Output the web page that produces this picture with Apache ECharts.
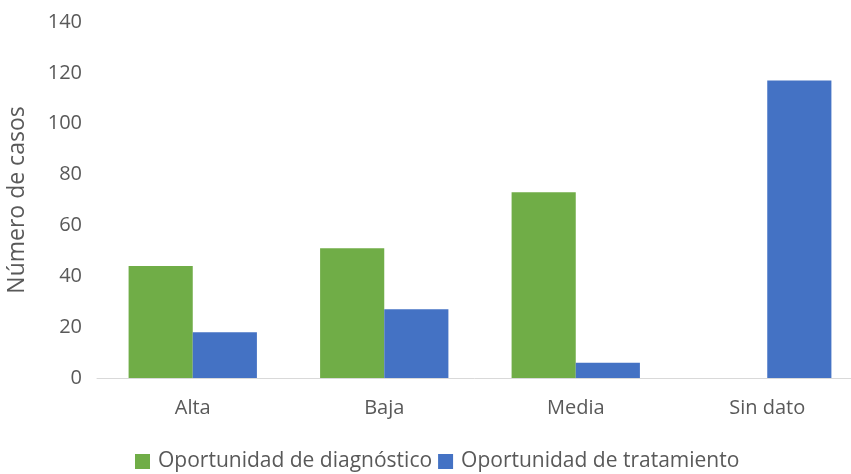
<!DOCTYPE html>
<html>
<head>
<meta charset="utf-8">
<script src="https://cdn.jsdelivr.net/npm/echarts@6/dist/echarts.min.js"></script>
<style>
  html, body { margin: 0; padding: 0; background: #fff; overflow: hidden; }
  #chart { width: 851px; height: 474px; }
</style>
</head>
<body>
<div id="chart"></div>
<script>
// Cases by opportunity level
const categories = ['Alta', 'Baja', 'Media', 'Sin dato'];
const diagnostico = [44, 51, 73, null];
const tratamiento = [18, 27, 6, 117];
const yTicks = { min: 0, max: 140, interval: 20 };

const textColor = '#595959';
const fontFamily = '"Open Sans", "Noto Sans", sans-serif';

const chart = echarts.init(document.getElementById('chart'));
chart.setOption({
  animation: false,
  textStyle: { fontFamily: fontFamily },
  // the plot runs slightly past the right edge of the canvas
  grid: { left: 97, width: 766, top: 22, bottom: 96, containLabel: false, outerBoundsMode: 'none' },
  legend: {
    top: 446,
    left: 130,
    itemWidth: 15,
    itemHeight: 15,
    itemGap: 6,
    icon: 'rect',
    textStyle: { color: textColor, fontSize: 21, fontFamily: fontFamily, padding: [0, 0, 0, 3] },
    data: ['Oportunidad de diagnóstico', 'Oportunidad de tratamiento']
  },
  xAxis: {
    type: 'category',
    data: categories,
    axisLine: { lineStyle: { color: '#d9d9d9', width: 1 } },
    axisTick: { show: false },
    axisLabel: { color: textColor, fontSize: 20, margin: 20 }
  },
  yAxis: {
    type: 'value',
    min: yTicks.min,
    max: yTicks.max,
    interval: yTicks.interval,
    name: 'Número de casos',
    nameLocation: 'middle',
    nameGap: 68,
    nameTextStyle: { color: textColor, fontSize: 23 },
    axisLine: { show: false },
    axisTick: { show: false },
    splitLine: { show: false },
    axisLabel: { color: textColor, fontSize: 20, margin: 15 }
  },
  series: [
    {
      name: 'Oportunidad de diagnóstico',
      type: 'bar',
      data: diagnostico,
      barGap: '0%',
      barCategoryGap: '33%',
      itemStyle: { color: '#70ad47' }
    },
    {
      name: 'Oportunidad de tratamiento',
      type: 'bar',
      data: tratamiento,
      barGap: '0%',
      barCategoryGap: '33%',
      itemStyle: { color: '#4472c4' }
    }
  ]
});
</script>
</body>
</html>
